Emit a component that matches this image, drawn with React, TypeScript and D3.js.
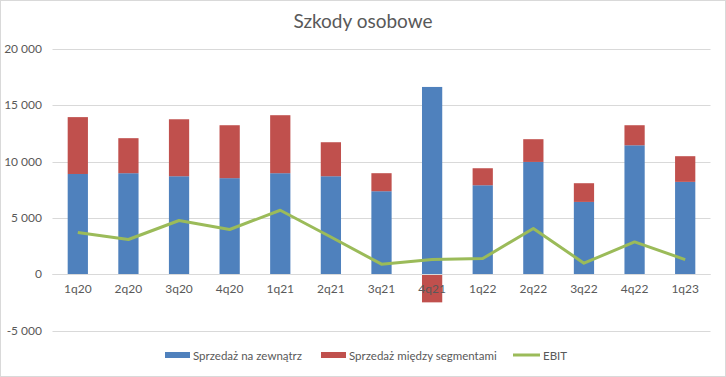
import React from "react";
import * as d3 from "d3";

const categories = ["1q20","2q20","3q20","4q20","1q21","2q21","3q21","4q21","1q22","2q22","3q22","4q22","1q23"];
const external = [8900, 8970, 8700, 8530, 8970, 8700, 7370, 16630, 7900, 9970, 6420, 11450, 8200];
const interSegment = [5050, 3110, 5060, 4700, 5150, 3020, 1600, -2500, 1510, 2020, 1660, 1780, 2280];
const ebit = [3700, 3080, 4770, 3970, 5680, 3300, 890, 1300, 1390, 4060, 975, 2870, 1300];
const yTicks = [-5000, 0, 5000, 10000, 15000, 20000];
const seriesNames = ["Sprzedaż na zewnątrz", "Sprzedaż między segmentami", "EBIT"];
const colors = ["#4F81BD", "#C0504D", "#9BBB59"];

const W = 726, H = 377;
const font = "Lato, 'Open Sans', 'Liberation Sans', sans-serif";

export default function App() {
  const x = d3.scaleBand<string>().domain(categories).range([52.5, 710.5]).paddingInner(0.6).paddingOuter(0.3);
  const y = d3.scaleLinear().domain([-5000, 20000]).range([330.5, 49]);
  const fmt = (v: number) => {
    const s = d3.format(",")(Math.abs(v)).replace(/,/g, "\u00a0");
    return v < 0 ? "-" + s : s;
  };
  const line = d3.line<number>().x((_, i) => (x(categories[i]) as number) + x.bandwidth() / 2).y(d => y(d));

  return (
    <svg width={W} height={H} style={{ position: "absolute", left: 0, top: 0, fontFamily: font }}>
      <rect x={0.5} y={0.5} width={W - 1} height={H - 1} fill="#fff" stroke="#d9d9d9" />
      <text x={363} y={28} textAnchor="middle" fontSize={19} fill="#595959">Szkody osobowe</text>
      {yTicks.map(t => (
        <g key={t}>
          <line x1={52.5} x2={710.5} y1={Math.round(y(t)) + 0.5} y2={Math.round(y(t)) + 0.5} stroke="#d9d9d9" strokeWidth={1} />
          <text x={42} y={y(t) + 4} textAnchor="end" fontSize={12} fill="#595959">{fmt(t)}</text>
        </g>
      ))}
      {categories.map((c, i) => {
        const bx = x(c) as number;
        const e = external[i];
        const s = interSegment[i];
        const redY = s >= 0 ? y(e + s) : y(0);
        const redH = s >= 0 ? y(e) - y(e + s) : y(s) - y(0);
        return (
          <g key={c}>
            <rect x={bx} y={y(e)} width={x.bandwidth()} height={y(0) - y(e)} fill={colors[0]} />
            <rect x={bx} y={redY} width={x.bandwidth()} height={redH} fill={colors[1]} />
          </g>
        );
      })}
      <line x1={52.5} x2={710.5} y1={Math.round(y(0)) + 0.5} y2={Math.round(y(0)) + 0.5} stroke="#d9d9d9" />
      {categories.map(c => (
        <text key={c} x={(x(c) as number) + x.bandwidth() / 2} y={293} textAnchor="middle" fontSize={12} fill="#595959">{c}</text>
      ))}
      <path d={line(ebit) || ""} fill="none" stroke={colors[2]} strokeWidth={3} strokeLinejoin="round" />
      <g fontSize={11.5} fill="#595959">
        <rect x={165} y={352} width={25} height={6} fill={colors[0]} />
        <text x={193} y={360} fill="#595959">{seriesNames[0]}</text>
        <rect x={321} y={352} width={25} height={6} fill={colors[1]} />
        <text x={349} y={360} fill="#595959">{seriesNames[1]}</text>
        <line x1={513} x2={540} y1={355} y2={355} stroke={colors[2]} strokeWidth={3} />
        <text x={543} y={360} fill="#595959">{seriesNames[2]}</text>
      </g>
    </svg>
  );
}
